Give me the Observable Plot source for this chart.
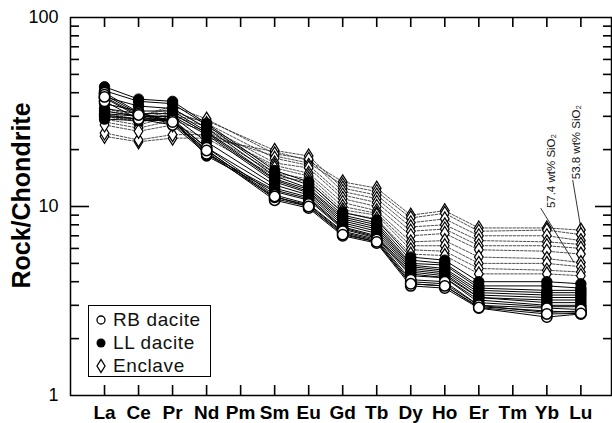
<!DOCTYPE html>
<html><head><meta charset="utf-8">
<script src="https://cdn.jsdelivr.net/npm/d3@7"></script>
<script src="https://cdn.jsdelivr.net/npm/@observablehq/plot@0.6"></script>
<style>
body{margin:0;background:#fff;font-family:"Liberation Sans",Arial,Helvetica,sans-serif;}
#wrap{position:relative;width:612px;height:423px;}
#legend{position:absolute;left:88px;top:305px;width:121px;height:70px;border:1.5px solid #000;background:#fff;font-size:19px;letter-spacing:0.6px;color:#111;}
#legend .row{position:absolute;left:0;height:22px;line-height:22px;white-space:nowrap;}
#legend svg{position:absolute;left:4px;top:2px;}
#legend span{position:absolute;left:24px;top:0;}
</style></head><body><div id="wrap"></div>
<script>
// Categories (x axis)
const elements = ["La","Ce","Pr","Nd","Pm","Sm","Eu","Gd","Tb","Dy","Ho","Er","Tm","Yb","Lu"];
// Elements actually analysed (Pm, Tm absent)
const measured = ["La","Ce","Pr","Nd","Sm","Eu","Gd","Tb","Dy","Ho","Er","Yb","Lu"];

// RB dacite (open circles, solid lines)
const rbDacite = [
  [40, 31.5, 28, 20, 11, 10, 7.2, 6.5, 3.9, 3.8, 2.95, 2.8, 2.75],
  [37.5, 30, 27.5, 19.5, 10.8, 9.8, 7.0, 6.4, 3.8, 3.7, 2.9, 2.6, 2.7],
  [36, 29, 27, 19, 11.2, 10.2, 7.3, 6.6, 4.0, 3.9, 3.0, 2.75, 2.8],
  [39, 31, 28.5, 20.5, 11.5, 10.3, 7.4, 6.7, 4.1, 4.0, 3.0, 2.9, 2.85],
  [38, 30.5, 28, 19.8, 11.3, 10, 7.1, 6.5, 3.9, 3.8, 2.92, 2.7, 2.72]
];
// LL dacite (filled circles, solid lines)
const llDacite = [
  [43, 37, 36, 27.5, 15.5, 13.5, 9.3, 8.5, 5.4, 5.2, 4.0, 4.0, 3.9],
  [41, 36, 35, 27, 15, 13, 9.0, 8.2, 5.2, 5.0, 3.8, 3.8, 3.7],
  [38, 34, 33, 26, 14.5, 12.5, 8.8, 8.0, 5.0, 4.9, 3.7, 3.6, 3.6],
  [35, 32, 32, 25, 14, 12.3, 8.6, 7.8, 4.9, 4.7, 3.6, 3.5, 3.5],
  [33, 31, 31, 24.5, 13.8, 12, 8.4, 7.6, 4.8, 4.6, 3.5, 3.4, 3.4],
  [32, 30, 30, 24, 13.5, 11.8, 8.2, 7.4, 4.7, 4.5, 3.4, 3.3, 3.3],
  [31, 30, 30, 22, 13, 11.5, 8.0, 7.2, 4.6, 4.4, 3.3, 3.2, 3.2],
  [30, 29, 29, 20.5, 12.5, 11.2, 7.8, 7.0, 4.5, 4.3, 3.3, 3.1, 3.1],
  [29, 28.5, 28.5, 19, 12.2, 11, 7.7, 6.9, 4.4, 4.2, 3.2, 3.0, 3.0],
  [30.5, 29, 29, 18.5, 12, 10.8, 7.6, 6.8, 4.3, 4.2, 3.1, 2.95, 2.95]
];
// Enclaves (diamonds, dashed lines)
const enclave = [
  [23.5, 22, 23, 23, 19.5, 17.5, 13.5, 12.5, 9.0, 9.5, 7.7, 7.7, 7.5],
  [24.5, 22.5, 24, 24, 18.5, 17, 13, 12, 8.7, 9.2, 7.4, 7.5, 7.1],
  [30, 28, 30, 28.5, 19.8, 18.5, 12.5, 11.5, 8.2, 8.6, 7.0, 7.0, 6.6],
  [33, 30, 34, 29, 19, 17.8, 12, 11, 7.8, 8.0, 6.6, 6.5, 6.3],
  [31, 29, 32, 27.5, 18, 16.5, 11.5, 10.5, 7.4, 7.6, 6.2, 6.2, 6.0],
  [29, 27, 30, 26.5, 17, 16, 11, 10, 7.0, 7.2, 5.9, 5.8, 5.6],
  [28, 26, 28.5, 25, 16.5, 15, 10.5, 9.5, 6.5, 6.6, 5.4, 5.3, 5.05],
  [32, 30, 33, 26, 16, 14.5, 10, 9.2, 6.2, 6.2, 5.0, 5.0, 4.8],
  [30, 28.5, 31, 24.5, 15, 14, 9.6, 9.0, 5.9, 5.8, 4.7, 4.6, 4.5],
  [27, 25, 27, 23, 14.5, 13.5, 9.3, 8.6, 5.6, 5.5, 4.4, 4.4, 4.3]
];
const groupNames = ["RB dacite", "LL dacite", "Enclave"];
const yLabel = "Rock/Chondrite";

// Y ticks
const yMajor = [1, 10, 100];
const yMinor = [2,3,4,5,6,7,8,9,20,30,40,50,60,70,80,90];

// Annotations: label, text position (x index, y value), leader line ends
const annText = ["57.4 wt% SiO\u2082", "53.8 wt% SiO\u2082"];
const annX = [13.12, 13.86];
const annY = [15.4, 21.9];
const annLineX1 = [12.82, 13.76];
const annLineY1 = [9.8, 13.8];
const annLineX2 = [13.8, 14.0];
const annLineY2 = [5.05, 7.65];

function toRows(sets, group) {
  const rows = [];
  sets.forEach((vals, s) => vals.forEach((v, k) => rows.push({
    group, sample: group + s, idx: elements.indexOf(measured[k]), v
  })));
  return rows;
}
const rbRows = toRows(rbDacite, groupNames[0]);
const llRows = toRows(llDacite, groupNames[1]);
const enRows = toRows(enclave, groupNames[2]);
const annRows = annText.map((t, i) => ({t, x: annX[i], y: annY[i], x1: annLineX1[i], y1: annLineY1[i], x2: annLineX2[i], y2: annLineY2[i]}));

const tallDiamond = {
  draw(ctx, size) {
    const r = Math.sqrt(size / Math.PI);
    const w = r * 0.62;
    ctx.moveTo(0, -r); ctx.lineTo(w, 0); ctx.lineTo(0, r); ctx.lineTo(-w, 0); ctx.closePath();
  }
};

const font = '"Liberation Sans", Arial, Helvetica, sans-serif';
const idxTicks = d3.range(elements.length);
const W = 612, H = 423, mL = 70, mR = 1, mT = 17, mB = 28;
const fw = W - mL - mR, fh = H - mT - mB;

const chart = Plot.plot({
  width: W, height: H,
  marginLeft: mL, marginRight: mR, marginTop: mT, marginBottom: mB,
  style: {fontFamily: font, background: "#fff", color: "#000"},
  x: {type: "linear", domain: [-1, 14.9], axis: null},
  y: {type: "log", domain: [1, 100], axis: null},
  marks: [
    // lines
    Plot.line(enRows, {x: "idx", y: "v", z: "sample", stroke: "#222", strokeWidth: 0.8, strokeDasharray: "2.5,1.5"}),
    Plot.line(llRows, {x: "idx", y: "v", z: "sample", stroke: "#000", strokeWidth: 1}),
    Plot.line(rbRows, {x: "idx", y: "v", z: "sample", stroke: "#000", strokeWidth: 1}),
    // markers
    Plot.dot(enRows, {x: "idx", y: "v", symbol: tallDiamond, r: 7, fill: "#fff", stroke: "#000", strokeWidth: 1.2}),
    Plot.dot(llRows, {x: "idx", y: "v", r: 5.2, fill: "#000", stroke: "#000", strokeWidth: 1}),
    Plot.dot(rbRows, {x: "idx", y: "v", r: 5.2, fill: "#fff", stroke: "#000", strokeWidth: 1.5}),
    // annotations
    Plot.link(annRows, {x1: "x1", y1: "y1", x2: "x2", y2: "y2", stroke: "#000", strokeWidth: 0.8}),
    Plot.text(annRows, {x: "x", y: "y", text: "t", rotate: -90, fontSize: 11.5, fill: "#111"}),
    // inward ticks
    Plot.ruleX(idxTicks, {x: d => d, insetTop: fh - 10, stroke: "#000", strokeWidth: 1.6}),
    Plot.ruleX(idxTicks, {x: d => d, insetBottom: fh - 10, stroke: "#000", strokeWidth: 1.6}),
    Plot.ruleY([10], {y: d => d, insetRight: fw - 19, stroke: "#000", strokeWidth: 1.6}),
    Plot.ruleY(yMinor, {y: d => d, insetRight: fw - 9, stroke: "#000", strokeWidth: 1.6}),
    Plot.ruleY([10], {y: d => d, insetLeft: fw - 16, stroke: "#000", strokeWidth: 1.6}),
    Plot.ruleY(yMinor, {y: d => d, insetLeft: fw - 8, stroke: "#000", strokeWidth: 1.6}),
    // tick labels
    Plot.axisX({ticks: idxTicks, anchor: "bottom", tickSize: 0, tickPadding: 10, tickFormat: i => elements[i], fontSize: 19, fontWeight: "bold", label: null}),
    Plot.axisY({ticks: yMajor, anchor: "left", tickSize: 0, tickPadding: 12, tickFormat: d => String(d), fontSize: 18, label: null}),
    Plot.text([yLabel], {frameAnchor: "left", textAnchor: "middle", dx: -49, dy: -11, rotate: -90, text: d => d, fontSize: 25, fontWeight: "bold", letterSpacing: "0.5px"}),
    Plot.frame({stroke: "#000", strokeWidth: 1.5})
  ]
});

const wrap = document.getElementById("wrap");
wrap.appendChild(chart);

// Legend overlay
const legend = document.createElement("div");
legend.id = "legend";
const legSymbols = [
  '<circle cx="8" cy="9" r="4" fill="#fff" stroke="#000" stroke-width="1.3"/>',
  '<circle cx="8" cy="9" r="4.5" fill="#000"/>',
  '<path d="M8,2.5 L12,9 L8,15.5 L4,9 Z" fill="#fff" stroke="#000" stroke-width="1.3"/>'
];
groupNames.forEach((g, i) => {
  const row = document.createElement("div");
  row.className = "row";
  row.style.top = (3 + i * 23) + "px";
  row.innerHTML = `<svg width="16" height="18">${legSymbols[i]}</svg><span>${g}</span>`;
  legend.appendChild(row);
});
wrap.appendChild(legend);
</script></body></html>
